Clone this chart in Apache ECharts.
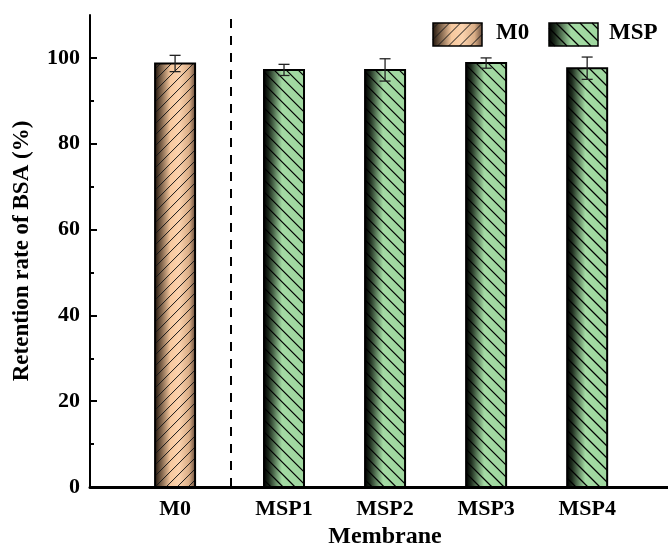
<!DOCTYPE html>
<html>
<head>
<meta charset="utf-8">
<script src="https://cdn.jsdelivr.net/npm/echarts@6/dist/echarts.min.js"></script>
<style>html,body{margin:0;padding:0;background:#fff;}#c{width:668px;height:554px;}</style>
</head>
<body>
<div id="c"></div>
<script>
// ---- data ----
const categories = ['M0', 'MSP1', 'MSP2', 'MSP3', 'MSP4'];
const groups = ['M0', 'MSP', 'MSP', 'MSP', 'MSP'];
const xPositions = [0.842, 1.92, 2.92, 3.92, 4.92];
const retention = [98.7, 97.2, 97.2, 98.8, 97.6];
const errors = [1.9, 1.3, 2.6, 1.2, 2.6];
const dividerX = 1.386;
const yTicks = [0, 20, 40, 60, 80, 100];
const yMinorTicks = [10, 30, 50, 70, 90];
const seriesNames = ['M0', 'MSP'];

const FONT = '"Liberation Serif", "Times New Roman", serif';
const XMAX = 5.72;

function gradientFor(kind) {
  if (kind === 'M0') {
    return new echarts.graphic.LinearGradient(0, 0, 1, 0, [
      { offset: 0, color: '#24180e' },
      { offset: 0.38, color: '#f6c89e' },
      { offset: 0.6, color: '#fcd3ae' },
      { offset: 0.85, color: '#d9ad86' },
      { offset: 1, color: '#6e5240' }
    ]);
  }
  return new echarts.graphic.LinearGradient(0, 0, 1, 0, [
    { offset: 0, color: '#000000' },
    { offset: 0.12, color: '#1c2a1c' },
    { offset: 0.45, color: '#a3daa3' },
    { offset: 1, color: '#a0d8a0' }
  ]);
}

function hatchLines(x0, y0, x1, y1, kind, step) {
  const out = [];
  if (kind === 'M0') {
    for (let c = x0 + y0 + step / 2; c < x1 + y1; c += step) {
      const xa = Math.max(x0, c - y1), xb = Math.min(x1, c - y0);
      if (xb - xa > 0.5) out.push({ type: 'line', shape: { x1: xa, y1: c - xa, x2: xb, y2: c - xb }, style: { stroke: '#1a1a1a', lineWidth: 1 } });
    }
  } else {
    for (let c = y0 - x1 + step / 2; c < y1 - x0; c += step) {
      const xa = Math.max(x0, y0 - c), xb = Math.min(x1, y1 - c);
      if (xb - xa > 0.5) out.push({ type: 'line', shape: { x1: xa, y1: xa + c, x2: xb, y2: xb + c }, style: { stroke: '#000', lineWidth: 1.2 } });
    }
  }
  return out;
}

function swatch(x0, y0, x1, y1, kind, step, bw) {
  const children = [];
  children.push({ type: 'rect', shape: { x: x0, y: y0, width: x1 - x0, height: y1 - y0 }, style: { fill: gradientFor(kind) } });
  hatchLines(x0, y0, x1, y1, kind, step).forEach(l => children.push(l));
  children.push({ type: 'rect', shape: { x: x0, y: y0, width: x1 - x0, height: y1 - y0 }, style: { fill: 'none', stroke: '#000', lineWidth: bw } });
  return children;
}

function makeSeries(name) {
  const data = [];
  categories.forEach((c, i) => {
    if (groups[i] === name) data.push([xPositions[i], retention[i], errors[i], c]);
  });
  const s = {
    type: 'custom',
    name: name,
    xAxisIndex: 0,
    yAxisIndex: 0,
    data: data,
    renderItem: function (params, api) {
      const x = api.value(0), v = api.value(1), e = api.value(2);
      const top = api.coord([x, v]);
      const base = api.coord([x, 0]);
      const cx = top[0];
      const x0 = cx - 20, x1 = cx + 20, y0 = top[1], y1 = base[1];
      const children = swatch(x0, y0, x1, y1, name, name === 'M0' ? 11 : 12, 2);
      const et = api.coord([x, v + e])[1], eb = api.coord([x, v - e])[1];
      const es = { stroke: '#222', lineWidth: 1.3 };
      children.push({ type: 'line', shape: { x1: cx, y1: et, x2: cx, y2: eb }, style: es });
      children.push({ type: 'line', shape: { x1: cx - 5.5, y1: et, x2: cx + 5.5, y2: et }, style: es });
      children.push({ type: 'line', shape: { x1: cx - 5.5, y1: eb, x2: cx + 5.5, y2: eb }, style: es });
      return { type: 'group', children: children };
    }
  };
  if (name === 'M0') {
    s.markLine = {
      silent: true,
      symbol: ['none', 'none'],
      label: { show: false },
      lineStyle: { color: '#000', width: 2, type: [9, 8] },
      data: [{ xAxis: dividerX }]
    };
  }
  return s;
}

function legendGraphic() {
  const els = [];
  const items = [
    { kind: 'M0', x: 433, tx: 496 },
    { kind: 'MSP', x: 549, tx: 609 }
  ];
  items.forEach(it => {
    els.push({ type: 'group', children: swatch(it.x, 23, it.x + 49, 46, it.kind, it.kind === 'M0' ? 11 : 12, 1.5) });
    els.push({ type: 'text', left: it.tx, top: 22, style: { text: it.kind, font: 'bold 23px ' + FONT, fill: '#000' } });
  });
  return els;
}

const chart = echarts.init(document.getElementById('c'));
chart.setOption({
  animation: false,
  backgroundColor: '#fff',
  grid: { left: 90, right: 0, top: 15, bottom: 67 },
  xAxis: [
    {
      type: 'value', min: 0, max: XMAX,
      name: 'Membrane', nameLocation: 'middle', nameGap: 36,
      nameTextStyle: { fontFamily: FONT, fontWeight: 'bold', fontSize: 24, color: '#000', padding: [0, 0, 0, 12] },
      axisLine: { show: true, lineStyle: { color: '#000', width: 3 } },
      axisTick: { show: false },
      splitLine: { show: false },
      axisLabel: {
        customValues: xPositions,
        margin: 11,
        fontFamily: FONT, fontWeight: 'bold', fontSize: 22, color: '#000',
        formatter: function (v) {
          const i = xPositions.findIndex(p => Math.abs(p - v) < 1e-6);
          return i >= 0 ? categories[i] : '';
        }
      }
    },
    {
      type: 'value', min: 0, max: XMAX, position: 'top',
      axisLine: { show: true, lineStyle: { color: '#000', width: 2 } },
      axisTick: { show: false }, axisLabel: { show: false }, splitLine: { show: false }
    }
  ],
  yAxis: [
    {
      type: 'value', min: 0, max: 110,
      name: 'Retention rate of BSA (%)', nameLocation: 'middle', nameGap: 56,
      nameTextStyle: { fontFamily: FONT, fontWeight: 'bold', fontSize: 23, color: '#000' },
      axisLine: { show: true, lineStyle: { color: '#000', width: 2 } },
      axisTick: { show: true, inside: true, length: 7, customValues: yTicks, lineStyle: { color: '#000', width: 2 } },
      axisLabel: { customValues: yTicks, margin: 10, fontFamily: FONT, fontWeight: 'bold', fontSize: 22, color: '#000' },
      splitLine: { show: false }
    },
    {
      type: 'value', min: 0, max: 110, position: 'left',
      axisLine: { show: false },
      axisTick: { show: true, inside: true, length: 4, customValues: yMinorTicks, lineStyle: { color: '#000', width: 2 } },
      axisLabel: { show: false },
      splitLine: { show: false }
    }
  ],
  series: seriesNames.map(makeSeries),
  graphic: legendGraphic()
});
</script>
</body>
</html>
